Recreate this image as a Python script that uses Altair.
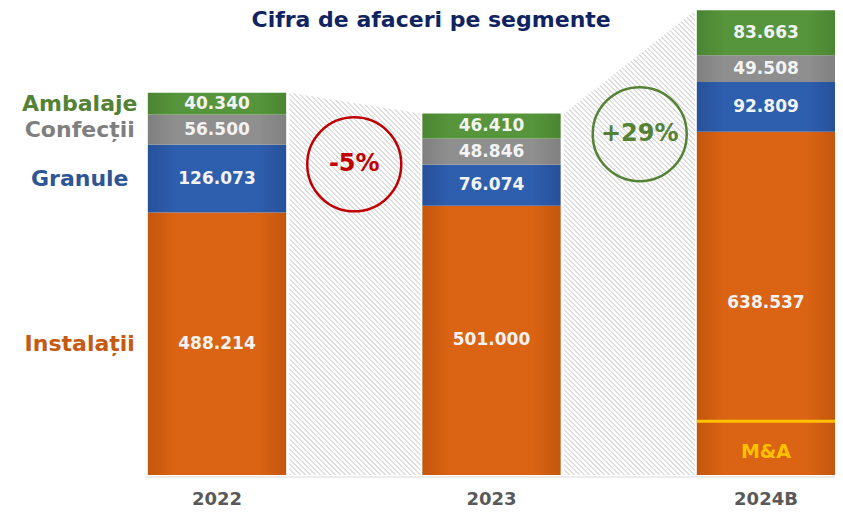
import math
import altair as alt
import pandas as pd

# ---------------- data ----------------
years = ["2022", "2023", "2024B"]
segments = ["Instalații", "Granule", "Confecții", "Ambalaje"]
instalatii = [488.214, 501.000, 638.537]
granule = [126.073, 76.074, 92.809]
confectii = [56.500, 48.846, 49.508]
ambalaje = [40.340, 46.410, 83.663]
changes = ["-5%", "+29%"]
ma_value = 100.0          # M&A part of the 2024B Instalații bar (estimated)
ma_label = "M&A"
title_text = "Cifra de afaceri pe segmente"

series = [instalatii, granule, confectii, ambalaje]
rows = []
for i, yr in enumerate(years):
    for k, (seg, vals) in enumerate(zip(segments, series)):
        rows.append({"year": yr, "xpos": i, "segment": seg, "order": k,
                     "value": vals[i], "label": f"{vals[i]:.3f}"})
df = pd.DataFrame(rows)
totals = [sum(v[i] for v in series) for i in range(len(years))]

# ---------------- scales ----------------
W, H = 827, 504
X_DOM = [-0.7614, 2.2514]
Y_DOM = [-68.8, 868.8]
PX_X = W / (X_DOM[1] - X_DOM[0])
PX_Y = H / (Y_DOM[1] - Y_DOM[0])
xs = alt.Scale(domain=X_DOM, nice=False, zero=False)
ys = alt.Scale(domain=Y_DOM, nice=False, zero=False)
HALF = 0.252
FONT = "DejaVu Sans"


def X(f):
    return alt.X(f, scale=xs, axis=None)


def Y(f):
    return alt.Y(f, scale=ys, axis=None)


GS = alt.GradientStop

# ---------------- hatched connectors ----------------
layers = []
PERIOD = 5.0
for j in range(len(years) - 1):
    x0, x1 = j + 0.264, j + 0.742
    d = pd.DataFrame({"x": [x0, x1], "top": [totals[j], totals[j + 1]], "bot": [0, 0]})
    w_px = (x1 - x0) * PX_X
    h_px = max(totals[j], totals[j + 1]) * PX_Y
    n = math.ceil((w_px + h_px) / PERIOD)
    s = n * PERIOD / (w_px ** 2 + h_px ** 2)
    a, b = w_px * s, h_px * s
    stops = []
    for i in range(n):
        stops += [GS(color="#dedede", offset=i / n),
                  GS(color="#dedede", offset=(i + 0.32) / n),
                  GS(color="#ffffff", offset=(i + 0.32) / n),
                  GS(color="#ffffff", offset=min(1.0, (i + 1) / n))]
    grad = alt.Gradient(gradient="linear", stops=stops, x1=0, y1=1, x2=a, y2=1 - b)
    layers.append(
        alt.Chart(d).mark_area(color=grad, interpolate="linear").encode(
            x=X("x:Q"), y=Y("top:Q"), y2="bot:Q")
    )

# baseline
base_line = pd.DataFrame({"x": [-0.26], "x2": [X_DOM[1]], "y": [-3.7]})
layers.append(alt.Chart(base_line).mark_rule(color="#d9d9d9", strokeWidth=1.2).encode(
    x=X("x:Q"), x2="x2:Q", y=Y("y:Q")))

# ---------------- stacked bars ----------------
base = alt.Chart(df).transform_stack(
    stack="value", groupby=["year"], as_=["y0", "y1"],
    sort=[alt.SortField(field="order", order="ascending")]
).transform_calculate(
    xl=f"datum.xpos - {HALF}", xr=f"datum.xpos + {HALF}",
    ym="(datum.y0 + datum.y1) / 2", xlab="datum.xpos - 0.5"
)

seg_fill = {
    "Instalații": ("#c4560d", "#da6413"),
    "Granule": ("#27519a", "#2e5eae"),
    "Confecții": ("#808080", "#8f8f8f"),
    "Ambalaje": ("#4b8532", "#56953b"),
}
for seg in segments:
    edge, mid = seg_fill[seg]
    g = alt.Gradient(gradient="linear", x1=0, x2=1, y1=0, y2=0,
                     stops=[GS(color=edge, offset=0), GS(color=mid, offset=0.2),
                            GS(color=mid, offset=0.8), GS(color=edge, offset=1)])
    layers.append(
        base.transform_filter(alt.datum.segment == seg).mark_rect(color=g).encode(
            x=X("xl:Q"), x2="xr:Q", y=Y("y0:Q"), y2="y1:Q")
    )

# value labels
layers.append(base.mark_text(font=FONT, fontWeight="bold", fontSize=17, color="#f3f3f3",
                             baseline="middle").encode(
    x=X("xpos:Q"), y=Y("ym:Q"), text="label:N"))

# segment names on the left (aligned with the 2022 segments)
lab_colors = ["#c55a11", "#2f5597", "#7f7f7f", "#548235"]
layers.append(base.transform_filter(alt.datum.xpos == 0).mark_text(
    font=FONT, fontWeight="bold", fontSize=22, baseline="middle", align="center").encode(
    x=X("xlab:Q"), y=Y("ym:Q"), text="segment:N",
    color=alt.Color("segment:N", scale=alt.Scale(domain=segments, range=lab_colors), legend=None)))

# year labels
yr_df = pd.DataFrame({"xpos": list(range(len(years))), "year": years, "y": [-47] * len(years)})
layers.append(alt.Chart(yr_df).mark_text(font=FONT, fontWeight="bold", fontSize=18,
                                         color="#595959", baseline="middle").encode(
    x=X("xpos:Q"), y=Y("y:Q"), text="year:N"))

# M&A marker in the 2024B bar
ma_df = pd.DataFrame({"xl": [2 - HALF], "xr": [2 + HALF], "y": [ma_value],
                      "ty": [ma_value * 0.43], "xc": [2], "t": [ma_label]})
layers.append(alt.Chart(ma_df).mark_rule(color="#ffc000", strokeWidth=3).encode(
    x=X("xl:Q"), x2="xr:Q", y=Y("y:Q")))
layers.append(alt.Chart(ma_df).mark_text(font=FONT, fontWeight="bold", fontSize=19,
                                         color="#ffc000", baseline="middle").encode(
    x=X("xc:Q"), y=Y("ty:Q"), text="t:N"))

# change circles
circ_pos = [(0.5, 578), (1.54, 634)]
circ_col = ["#c00000", "#548235"]
for (cx, cy), txt, col in zip(circ_pos, changes, circ_col):
    cd = pd.DataFrame({"x": [cx], "y": [cy], "t": [txt]})
    layers.append(alt.Chart(cd).mark_point(shape="circle", size=94 * 94, filled=False,
                                           strokeWidth=2.5, color=col, opacity=1).encode(
        x=X("x:Q"), y=Y("y:Q")))
    layers.append(alt.Chart(cd).mark_text(font=FONT, fontWeight="bold", fontSize=24, color=col,
                                          baseline="middle").encode(
        x=X("x:Q"), y=Y("y:Q"), text="t:N"))

# title
tdf = pd.DataFrame({"x": [0.78], "y": [846], "t": [title_text]})
layers.append(alt.Chart(tdf).mark_text(font=FONT, fontWeight="bold", fontSize=22,
                                       color="#112462", baseline="middle").encode(
    x=X("x:Q"), y=Y("y:Q"), text="t:N"))

chart = alt.layer(*layers).properties(
    width=W, height=H, padding=0, autosize=alt.AutoSizeParams(type="none")
).configure_view(stroke=None)

chart.save("out.html", embed_options={"renderer": "svg", "actions": False})
